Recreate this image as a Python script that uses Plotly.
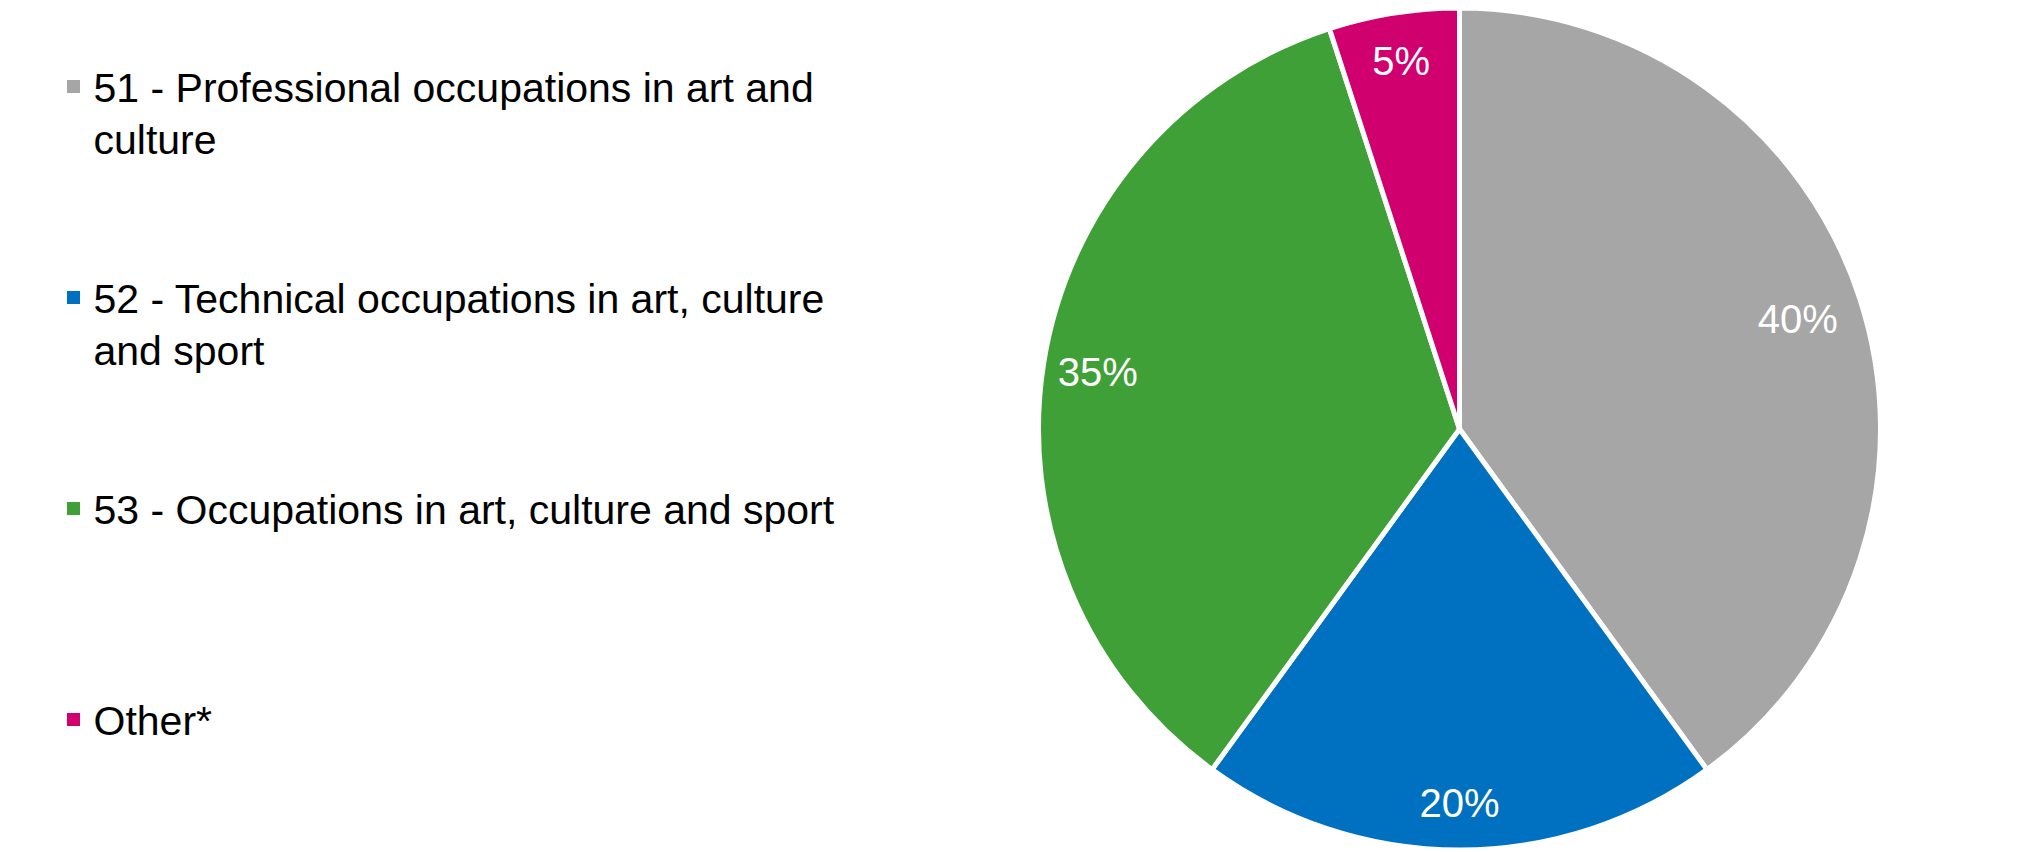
import plotly.graph_objects as go

categories = [
    "51 - Professional occupations in art and<br>culture",
    "52 - Technical occupations in art, culture<br>and sport",
    "53 - Occupations in art, culture and sport",
    "Other*",
]
values = [40, 20, 35, 5]
colors = ["#A6A6A6", "#0070C0", "#40A038", "#D0006F"]

W, H = 2030, 852
FONT = "Liberation Sans, Arial, sans-serif"
PAGE = 8  # default body margin of the html page

# pie geometry (pixels, figure coordinates)
r = 421.0
cx, cy = 1459.5 - PAGE, r
dom = dict(
    x=[(cx - r) / W, (cx + r) / W],
    y=[max(0.0, (H - cy - r) / H), min(1.0, (H - cy + r) / H)],
)

fig = go.Figure()

# coloured slices
fig.add_trace(
    go.Pie(
        labels=categories,
        values=values,
        marker=dict(colors=colors, line=dict(color="white", width=5)),
        sort=False,
        direction="clockwise",
        rotation=0,
        textinfo="none",
        domain=dom,
        showlegend=False,
        hoverinfo="label+percent",
    )
)

# transparent rings carrying the percentage labels near the rim
# (one ring per slice so each label sits at its own distance from the centre)
label_holes = [0.69, 0.79, 0.74, 0.77]
for i, hole in enumerate(label_holes):
    fig.add_trace(
        go.Pie(
            labels=categories,
            values=values,
            hole=hole,
            marker=dict(colors=["rgba(0,0,0,0)"] * len(values), line=dict(width=0)),
            sort=False,
            direction="clockwise",
            rotation=0,
            texttemplate="%{percent:.0%}",
            textposition=["inside" if j == i else "none" for j in range(len(values))],
            insidetextorientation="horizontal",
            textfont=dict(color="white", size=40, family=FONT),
            domain=dom,
            showlegend=False,
            hoverinfo="skip",
        )
    )

# legend entries (evenly spaced: each entry occupies four text lines)
n_lines = 4
span_open = '<span style="font-size:41px">'
for i, (cat, col) in enumerate(zip(categories, colors)):
    name = span_open + cat.replace("<br>", "</span><br>" + span_open) + "</span>"
    if i < len(categories) - 1:
        name = name + "<br> " * (n_lines - (cat.count("<br>") + 1))
    fig.add_trace(
        go.Scatter(
            x=[None],
            y=[None],
            mode="markers",
            marker=dict(symbol="square", size=13, color=col),
            name=name,
            showlegend=True,
            hoverinfo="skip",
        )
    )

fig.update_layout(
    width=W,
    height=H,
    margin=dict(l=0, r=0, t=0, b=0),
    paper_bgcolor="white",
    plot_bgcolor="white",
    font=dict(family=FONT, color="black"),
    xaxis=dict(visible=False),
    yaxis=dict(visible=False),
    showlegend=True,
    legend=dict(
        x=(53.5 - PAGE) / W,
        y=1 - (54 - PAGE) / H,
        xanchor="left",
        yanchor="top",
        valign="top",
        traceorder="normal",
        font=dict(size=40, color="black", family=FONT),
        bgcolor="rgba(0,0,0,0)",
        itemclick=False,
        itemdoubleclick=False,
    ),
)

fig.write_html("out.html")
